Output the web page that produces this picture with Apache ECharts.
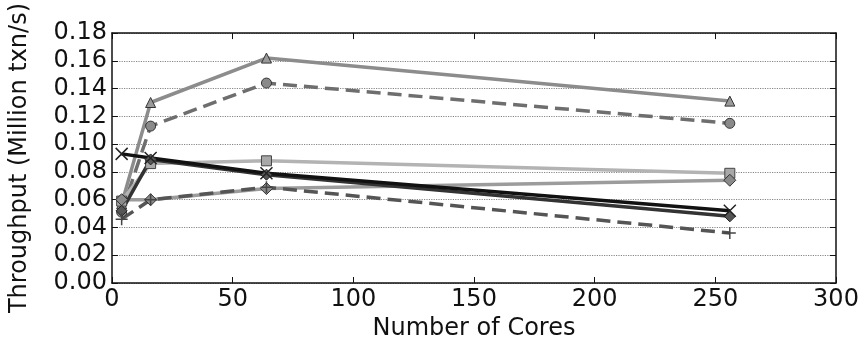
<!DOCTYPE html>
<html><head><meta charset="utf-8">
<script src="https://cdn.jsdelivr.net/npm/echarts@6/dist/echarts.min.js"></script>
<style>html,body{margin:0;padding:0;background:#fff}#c{width:864px;height:347px}</style>
</head><body><div id="c"></div>
<script>
const cores = [4, 16, 64, 256];
const triangleSeries = [0.057, 0.130, 0.162, 0.131];
const circleSeries = [0.051, 0.113, 0.144, 0.115];
const squareSeries = [0.059, 0.086, 0.088, 0.079];
const diamondSeries = [0.060, 0.060, 0.068, 0.074];
const darkSeries = [0.052, 0.089, 0.078, 0.048];
const crossSeries = [0.093, 0.090, 0.079, 0.052];
const plusSeries = [0.046, 0.060, 0.069, 0.036];
const xTicks = [0, 50, 100, 150, 200, 250, 300];
const yTicks = [0, 0.02, 0.04, 0.06, 0.08, 0.10, 0.12, 0.14, 0.16, 0.18];

const pair = arr => cores.map((c, i) => [c, arr[i]]);
const FONT = 'DejaVu Sans';
const X_PATH = 'path://M0,0L10,10M10,0L0,10';
const PLUS_PATH = 'path://M5,0L5,10M0,5L10,5';

function mk(name, data, lineColor, width, type, symbol, size, fill, border, bw) {
  return {
    name, type: 'line', data: pair(data), symbol, symbolSize: size,
    lineStyle: { color: lineColor, width, type },
    itemStyle: { color: fill, borderColor: border, borderWidth: bw },
    emphasis: { disabled: true }, animation: false
  };
}
const tickStyle = { inside: true, length: 6, lineStyle: { color: '#111', width: 1 } };
const lineStyle = { show: true, onZero: false, lineStyle: { color: '#111', width: 1.5 } };

const chart = echarts.init(document.getElementById('c'));
chart.setOption({
  animation: false,
  grid: { left: 105, right: 28, top: 33, bottom: 64 },
  xAxis: [{
    type: 'value', min: 0, max: 300, interval: 50,
    name: 'Number of Cores', nameLocation: 'middle', nameGap: 30,
    nameTextStyle: { fontFamily: FONT, fontSize: 24, color: '#111' },
    axisLine: lineStyle, axisTick: tickStyle,
    axisLabel: { fontFamily: FONT, fontSize: 24, color: '#111', margin: 5,
      formatter: v => xTicks.includes(v) ? String(v) : '' },
    splitLine: { show: false }
  }, {
    type: 'value', min: 0, max: 300, interval: 50, position: 'top',
    axisLine: lineStyle, axisTick: tickStyle,
    axisLabel: { show: false }, splitLine: { show: false }
  }],
  yAxis: [{
    type: 'value', min: 0, max: 0.18, interval: 0.02,
    name: 'Throughput (Million txn/s)', nameLocation: 'middle', nameGap: 80,
    nameTextStyle: { fontFamily: FONT, fontSize: 24, color: '#111' },
    axisLine: lineStyle, axisTick: Object.assign({ show: true }, tickStyle),
    axisLabel: { fontFamily: FONT, fontSize: 24, color: '#111', margin: 5,
      formatter: v => { const t = yTicks.find(y => Math.abs(y - v) < 1e-9); return t === undefined ? '' : t.toFixed(2); } },
    splitLine: { show: true, lineStyle: { color: '#888', type: 'dotted', width: 1.2 } }
  }, {
    type: 'value', min: 0, max: 0.18, interval: 0.02, position: 'right',
    axisLine: lineStyle, axisTick: Object.assign({ show: true }, tickStyle),
    axisLabel: { show: false }, splitLine: { show: false }
  }],
  series: [
    mk('tri', triangleSeries, '#8c8c8c', 3.5, 'solid', 'triangle', 10, '#9a9a9a', '#333', 1),
    mk('circ', circleSeries, '#6e6e6e', 3.5, 'dashed', 'circle', 10, '#8a8a8a', '#333', 1),
    mk('sq', squareSeries, '#b3b3b3', 3.5, 'solid', 'rect', 10, '#a8a8a8', '#444', 1),
    mk('diam', diamondSeries, '#9c9c9c', 3.5, 'solid', 'diamond', 12, '#8a8a8a', '#333', 1),
    mk('dark', darkSeries, '#333', 3.5, 'solid', 'diamond', 11, '#555', '#222', 1),
    mk('cross', crossSeries, '#111', 3.5, 'solid', X_PATH, 12, 'none', '#222', 1.5),
    mk('plus', plusSeries, '#555', 3.5, 'dashed', PLUS_PATH, 12, 'none', '#444', 1.5)
  ]
});
</script></body></html>
